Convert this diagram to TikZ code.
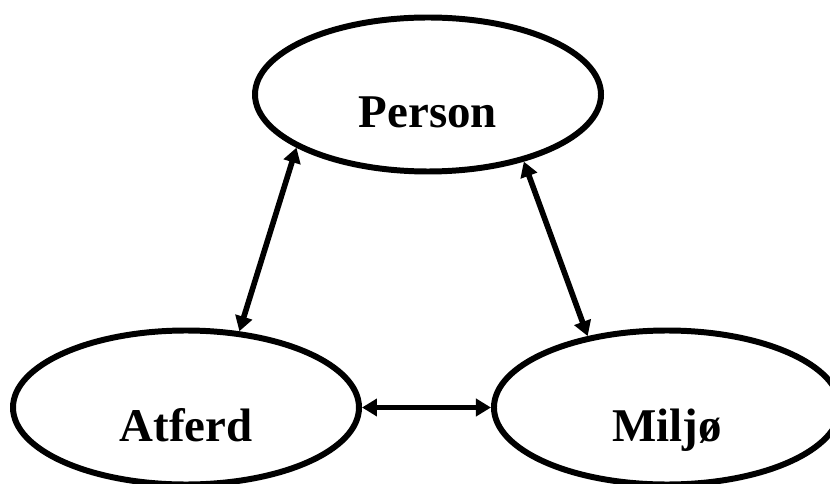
\documentclass[tikz,border=0pt]{standalone}
\usepackage{fontspec}
\setmainfont{Liberation Serif}
\usepackage{tikz}
\usetikzlibrary{arrows.meta,positioning,shapes.geometric}

\begin{document}
\begin{tikzpicture}[
    node distance=2.58cm,
    oval/.style={ellipse, draw, line width=3.4pt, inner sep=0pt,
                 minimum width=6.92cm, minimum height=3.08cm,
                 text height=1.34cm, text depth=0pt,
                 font=\fontsize{26.7}{32}\selectfont\bfseries},
    arrow/.style={{Triangle[length=3mm,width=3.4mm]}-{Triangle[length=3mm,width=3.4mm]},
                  line width=3.2pt}
  ]
    \useasboundingbox (0,0) rectangle (16.6,-9.68);
    \node[oval] (person) at (8.56,-1.89) {Person};
    \node[oval] (atferd) at (3.72,-8.15) {Atferd};
    \node[oval, right=of atferd] (miljo) {Miljø};
    \draw[arrow] (atferd.55)  -- (person.202);
    \draw[arrow] (person.325) -- (miljo.138);
    \draw[arrow] (atferd)     -- (miljo);
  \end{tikzpicture}
\end{document}
